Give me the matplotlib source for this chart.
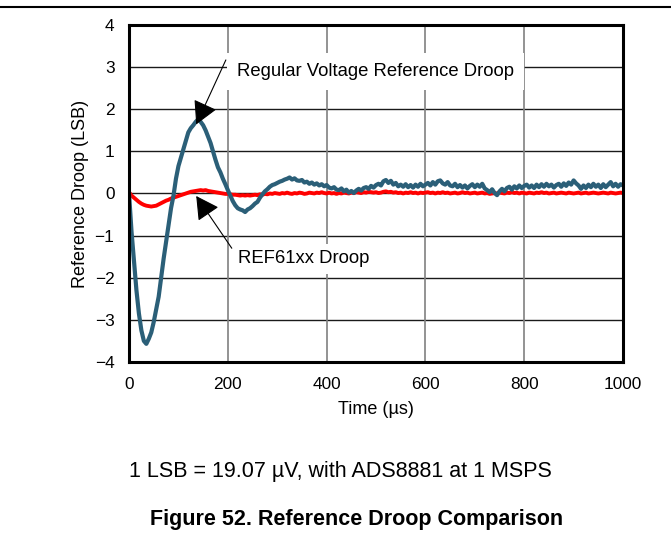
import numpy as np
import matplotlib
matplotlib.use("Agg")
import matplotlib.pyplot as plt

plt.rcParams['font.family'] = ['Liberation Sans', 'DejaVu Sans']

time_us = list(range(0, 1001, 5))

regular_droop = [
    0.0, -0.9, -1.6, -2.3, -2.85, -3.25, -3.5, -3.57, -3.45, -3.3,
    -3.05, -2.75, -2.45, -2.0, -1.55, -1.15, -0.75, -0.35, -0.05, 0.35,
    0.65, 0.85, 1.05, 1.25, 1.45, 1.55, 1.62, 1.7, 1.76, 1.7,
    1.62, 1.5, 1.35, 1.2, 1.0, 0.8, 0.62, 0.5, 0.35, 0.22,
    0.08, -0.05, -0.18, -0.28, -0.35, -0.38, -0.4, -0.44, -0.38, -0.35,
    -0.3, -0.24, -0.2, -0.1, -0.02, 0.05, 0.1, 0.16, 0.2, 0.22,
    0.25, 0.28, 0.3, 0.33, 0.35, 0.38, 0.33, 0.36, 0.31, 0.3,
    0.32, 0.26, 0.28, 0.23, 0.26, 0.21, 0.24, 0.19, 0.22, 0.17,
    0.2, 0.14, 0.12, 0.15, 0.09, 0.08, 0.12, 0.05, 0.09, 0.02,
    0.06, 0.01, 0.07, 0.11, 0.07, 0.13, 0.15, 0.11, 0.18, 0.14,
    0.2, 0.23, 0.19, 0.29, 0.32, 0.25, 0.3, 0.21, 0.25, 0.17,
    0.21, 0.16, 0.22, 0.15, 0.2, 0.14, 0.21, 0.16, 0.23, 0.17,
    0.21, 0.25, 0.19, 0.27, 0.21, 0.29, 0.31, 0.24, 0.21, 0.27,
    0.19, 0.17, 0.23, 0.15, 0.2, 0.14, 0.19, 0.12, 0.18, 0.22,
    0.15, 0.21, 0.16, 0.23, 0.12, 0.08, 0.03, 0.1, 0.01, -0.04,
    0.05, 0.11, 0.05, 0.13, 0.16, 0.09, 0.17, 0.12, 0.19, 0.13,
    0.18, 0.21, 0.14, 0.19, 0.13, 0.21, 0.15, 0.22, 0.16, 0.23,
    0.17, 0.21, 0.14, 0.2, 0.23, 0.16, 0.24, 0.18, 0.26, 0.21,
    0.31, 0.24, 0.19, 0.11, 0.19, 0.13, 0.21, 0.15, 0.23, 0.16,
    0.21, 0.13, 0.22, 0.15, 0.21, 0.27, 0.17, 0.23, 0.16, 0.22,
    0.19,
]

ref61xx_droop = [
    0.03, -0.05, -0.1, -0.15, -0.2, -0.24, -0.27, -0.29, -0.3, -0.31,
    -0.3, -0.29, -0.26, -0.23, -0.2, -0.17, -0.15, -0.12, -0.1, -0.08,
    -0.06, -0.04, -0.02, 0.0, 0.02, 0.04, 0.05, 0.06, 0.07, 0.08,
    0.07, 0.08, 0.06, 0.05, 0.04, 0.03, 0.02, 0.01, 0.0, -0.01,
    -0.01, -0.02, -0.03, -0.03, -0.04, -0.05, -0.04, -0.05, -0.04, -0.05,
    -0.04, -0.03, -0.04, -0.02, -0.03, -0.01, -0.02, 0.0, -0.01, 0.01,
    0.0, -0.01, 0.01, 0.0, 0.02, 0.0, -0.01, 0.01, 0.0, 0.02,
    0.01, -0.01, 0.0, 0.02, 0.01, 0.0, 0.02, 0.01, 0.03, 0.01,
    0.0, 0.02, 0.0, 0.01, -0.01, 0.01, 0.0, 0.02, 0.01, 0.0,
    0.02, 0.01, 0.03, 0.02, 0.01, 0.03, 0.02, 0.04, 0.03, 0.02,
    0.03, 0.01, 0.02, 0.04, 0.05, 0.03, 0.04, 0.02, 0.03, 0.01,
    0.02, 0.0, 0.02, 0.01, 0.03, 0.01, 0.02, 0.0, 0.02, 0.01,
    0.02, 0.03, 0.01, 0.02, 0.0, 0.02, 0.01, 0.03, 0.01, 0.02,
    0.0, 0.01, 0.02, 0.0, 0.01, 0.03, 0.01, 0.02, 0.0, 0.01,
    0.02, 0.0, 0.01, 0.02, 0.0, 0.01, -0.01, 0.0, 0.01, 0.0,
    0.02, 0.01, 0.0, 0.02, 0.01, 0.03, 0.01, 0.02, 0.0, 0.02,
    0.01, 0.0, 0.02, 0.01, 0.0, 0.02, 0.01, 0.03, 0.01, 0.02,
    0.0, 0.01, 0.02, 0.0, 0.01, 0.02, 0.01, 0.0, 0.02, 0.01,
    0.0, 0.01, 0.02, 0.0, 0.01, 0.02, 0.0, 0.01, 0.02, 0.01,
    0.0, 0.01, 0.02, 0.01, 0.0, 0.02, 0.01, 0.0, 0.01, 0.02,
    0.01,
]

x_ticks = [0, 200, 400, 600, 800, 1000]
y_ticks = [-4, -3, -2, -1, 0, 1, 2, 3, 4]

fig = plt.figure(figsize=(6.71, 5.44), dpi=100)
ax = fig.add_axes([0.1923, 0.3346, 0.7362, 0.6195])

ax.set_xlim(0, 1000)
ax.set_ylim(-4, 4)
ax.set_xticks(x_ticks)
ax.set_yticks(y_ticks)
ax.tick_params(length=0, labelsize=12.4)
ax.tick_params(axis='y', pad=10.5)
ax.tick_params(axis='x', pad=11)

for yv in y_ticks:
    ax.axhline(yv, color='#1a1a1a', lw=1.0, zorder=1)
for xv in x_ticks:
    ax.axvline(xv, color='#808080', lw=1.2, zorder=1)

ax.plot(time_us, ref61xx_droop, color='#ff0000', lw=2.8, zorder=3)
ax.plot(time_us, regular_droop, color='#2b5f78', lw=3.0, zorder=4)

for s in ax.spines.values():
    s.set_linewidth(2.2)
    s.set_color('black')
    s.set_zorder(6)

ax.set_xlabel('Time (µs)', fontsize=13, labelpad=6)
ax.set_ylabel('Reference Droop (LSB)', fontsize=13, labelpad=4)

arrow = dict(arrowstyle='-|>,head_length=0.55,head_width=0.3', color='black', lw=0.8,
             mutation_scale=26, shrinkA=0, shrinkB=0)
ax.text(218, 2.9, 'Regular Voltage Reference Droop', fontsize=13.3, ha='left', va='center',
        bbox=dict(boxstyle='square,pad=0.55', fc='white', ec='none'), zorder=5)
ax.annotate('', xy=(136, 1.64), xytext=(196, 3.17), arrowprops=arrow, zorder=5)
ax.text(220, -1.55, 'REF61xx Droop', fontsize=13.3, ha='left', va='center',
        bbox=dict(boxstyle='square,pad=0.35', fc='white', ec='none'), zorder=5)
ax.annotate('', xy=(136, -0.06), xytext=(208, -1.3), arrowprops=arrow, zorder=5)

fig.add_artist(plt.Line2D([0, 1], [1 - 7 / 544, 1 - 7 / 544], color='black', lw=1.5))
fig.text(340 / 671, 1 - 472 / 544, '1 LSB = 19.07 µV, with ADS8881 at 1 MSPS',
         fontsize=15.5, ha='center', va='center')
fig.text(357 / 671, 1 - 520 / 544, 'Figure 52. Reference Droop Comparison',
         fontsize=15.5, fontweight='bold', ha='center', va='center')

fig.savefig('out.png', dpi=100)
